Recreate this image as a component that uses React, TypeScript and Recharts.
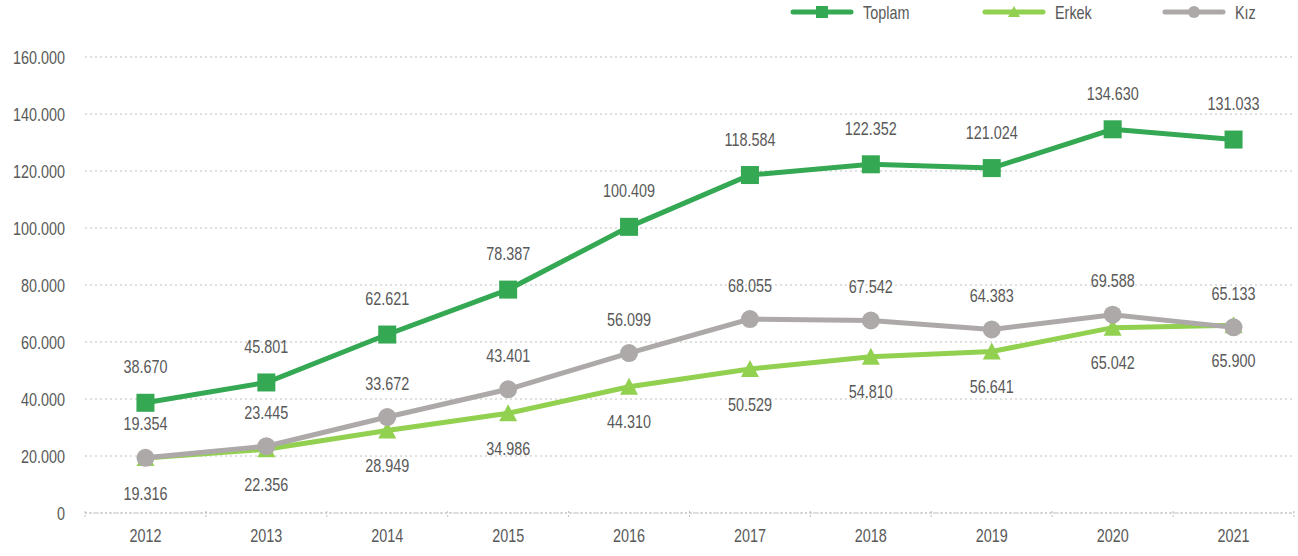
import React from 'react';
import { LineChart, Line, XAxis, YAxis, CartesianGrid, LabelList } from 'recharts';

const years = ['2012', '2013', '2014', '2015', '2016', '2017', '2018', '2019', '2020', '2021'];
const toplam = [38670, 45801, 62621, 78387, 100409, 118584, 122352, 121024, 134630, 131033];
const erkek = [19316, 22356, 28949, 34986, 44310, 50529, 54810, 56641, 65042, 65900];
const kiz = [19354, 23445, 33672, 43401, 56099, 68055, 67542, 64383, 69588, 65133];
const yTicks = [0, 20000, 40000, 60000, 80000, 100000, 120000, 140000, 160000];

const C_TOPLAM = '#34A853';
const C_ERKEK = '#92D050';
const C_KIZ = '#ADA9A9';
const TEXT = '#595959';
const GRID = '#BFBFBF';
const FONT = '"Liberation Sans", Arial, sans-serif';
const FS = 18;
const HALF = 60.45;

const data = years.map((y, i) => ({ year: y, Toplam: toplam[i], Erkek: erkek[i], Kiz: kiz[i] }));

const fmt = (v: number) => (v === 0 ? '0' : v.toLocaleString('de-DE'));

// narrow-looking text: Liberation Sans squeezed horizontally
function NText({ x, y, anchor = 'middle', children }: any) {
  return (
    <text
      transform={`translate(${x},${y}) scale(0.8,1)`}
      textAnchor={anchor}
      dominantBaseline="central"
      fill={TEXT}
      fontSize={FS}
      fontFamily={FONT}
    >
      {children}
    </text>
  );
}

function Square({ cx, cy }: any) {
  return <rect x={cx - 9} y={cy - 9} width={18} height={18} fill={C_TOPLAM} />;
}
function Tri({ cx, cy }: any) {
  return <polygon points={`${cx},${cy - 9} ${cx + 9},${cy + 8} ${cx - 9},${cy + 8}`} fill={C_ERKEK} />;
}
function Dot({ cx, cy }: any) {
  return <circle cx={cx} cy={cy} r={9} fill={C_KIZ} />;
}

const makeLabel = (dy: number) => (props: any) => {
  const { x, y, value } = props;
  return <NText x={x} y={y + dy}>{fmt(value)}</NText>;
};

// x tick label plus dotted tick marks between categories
function XTick({ x, y, payload, index }: any) {
  const axisY = y - 10;
  return (
    <g>
      <line x1={x - HALF} x2={x - HALF} y1={axisY} y2={axisY + 7} stroke={GRID} strokeDasharray="2 2" />
      {index === years.length - 1 && (
        <line x1={x + HALF} x2={x + HALF} y1={axisY} y2={axisY + 7} stroke={GRID} strokeDasharray="2 2" />
      )}
      <NText x={x} y={axisY + 24}>{payload.value}</NText>
    </g>
  );
}

function YTick({ y, payload }: any) {
  return <NText x={65} y={y} anchor="end">{fmt(payload.value)}</NText>;
}

function LegendBox() {
  const items = [
    { name: 'Toplam', color: C_TOPLAM, x: 793, mark: 'sq' },
    { name: 'Erkek', color: C_ERKEK, x: 985, mark: 'tri' },
    { name: 'Kız', color: C_KIZ, x: 1165, mark: 'dot' },
  ];
  return (
    <svg width={1298} height={26} style={{ position: 'absolute', left: 0, top: 0 }}>
      {items.map((it) => {
        const mx = it.x + 29;
        const my = 12;
        return (
          <g key={it.name}>
            <line x1={it.x} x2={it.x + 58} y1={my} y2={my} stroke={it.color} strokeWidth={5} strokeLinecap="round" />
            {it.mark === 'sq' && <rect x={mx - 6} y={my - 6} width={12} height={12} fill={it.color} />}
            {it.mark === 'tri' && <polygon points={`${mx},${my - 6} ${mx + 6},${my + 5} ${mx - 6},${my + 5}`} fill={it.color} />}
            {it.mark === 'dot' && <circle cx={mx} cy={my} r={6} fill={it.color} />}
            <NText x={it.x + 70} y={my} anchor="start">{it.name}</NText>
          </g>
        );
      })}
    </svg>
  );
}

export default function App() {
  return (
    <div style={{ position: 'absolute', left: 0, top: 0, width: 1298, height: 556, background: '#fff' }}>
      <LineChart width={1298} height={556} data={data} margin={{ top: 57, right: 4, left: 0, bottom: 12 }}>
        <CartesianGrid vertical={false} stroke={GRID} strokeDasharray="2 3" />
        <XAxis
          dataKey="year"
          height={31}
          padding={{ left: HALF, right: HALF }}
          tick={<XTick />}
          interval={0}
          axisLine={{ stroke: GRID, strokeDasharray: '2 2' }}
          tickLine={false}
        />
        <YAxis
          width={85}
          domain={[0, 160000]}
          ticks={yTicks}
          axisLine={false}
          tickLine={false}
          tick={<YTick />}
        />
        <Line
          dataKey="Toplam"
          stroke={C_TOPLAM}
          strokeWidth={5}
          dot={<Square />}
          activeDot={false}
          isAnimationActive={false}
        >
          <LabelList dataKey="Toplam" content={makeLabel(-36)} />
        </Line>
        <Line
          dataKey="Erkek"
          stroke={C_ERKEK}
          strokeWidth={5}
          dot={<Tri />}
          activeDot={false}
          isAnimationActive={false}
        >
          <LabelList dataKey="Erkek" content={makeLabel(35)} />
        </Line>
        <Line
          dataKey="Kiz"
          name="Kız"
          stroke={C_KIZ}
          strokeWidth={5}
          dot={<Dot />}
          activeDot={false}
          isAnimationActive={false}
        >
          <LabelList dataKey="Kiz" content={makeLabel(-34)} />
        </Line>
      </LineChart>
      <LegendBox />
    </div>
  );
}
